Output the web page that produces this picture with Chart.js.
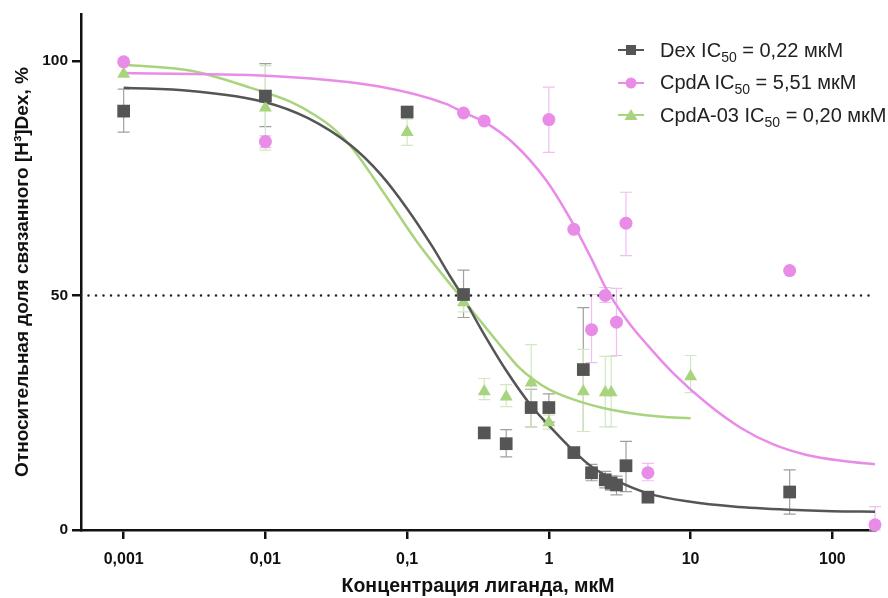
<!DOCTYPE html>
<html>
<head>
<meta charset="utf-8">
<script src="https://cdn.jsdelivr.net/npm/chart.js@4.4.1/dist/chart.umd.min.js"></script>
<style>
  body { margin: 0; background: #fff; }
  #wrap { position: relative; width: 888px; height: 598px; }
  #legend { position: absolute; left: 618px; top: 34px; font-family: "Liberation Sans", Arial, sans-serif; font-size: 20px; color: #222; }
  #legend .row { display: flex; align-items: center; height: 32.5px; white-space: nowrap; }
  #legend svg { margin-right: 16px; }
  #legend sub { font-size: 14px; vertical-align: -5px; line-height: 0; }
</style>
</head>
<body>
<div id="wrap">
  <canvas id="grafico" width="888" height="598"></canvas>
  <div id="legend">
    <div class="row">
      <svg width="26" height="14"><line x1="0" y1="7" x2="26" y2="7" stroke="#555" stroke-width="2"/><rect x="8" y="2" width="10" height="10" fill="#555"/></svg>
      <span>Dex IC<sub>50</sub> = 0,22 мкМ</span>
    </div>
    <div class="row">
      <svg width="26" height="14"><line x1="0" y1="7" x2="26" y2="7" stroke="#e88ce8" stroke-width="2"/><circle cx="13" cy="7" r="5.5" fill="#e88ce8"/></svg>
      <span>CpdA IC<sub>50</sub> = 5,51 мкМ</span>
    </div>
    <div class="row">
      <svg width="26" height="14"><line x1="0" y1="7" x2="26" y2="7" stroke="#a8d47e" stroke-width="2"/><polygon points="13,1 19.5,12 6.5,12" fill="#a8d47e"/></svg>
      <span>CpdA-03 IC<sub>50</sub> = 0,20 мкМ</span>
    </div>
  </div>
</div>
<script>
// Datos
const xTicks = [0.001, 0.01, 0.1, 1, 10, 100];
const xTickLabels = ["0,001", "0,01", "0,1", "1", "10", "100"];
const yTicks = [0, 50, 100];

// Dex (cuadrados)
const dexX  = [0.001, 0.01, 0.1, 0.25, 0.35, 0.5, 0.75, 1, 1.5, 1.75, 2, 2.5, 2.75, 3, 3.5, 5, 50];
const dexY  = [89.3, 92.5, 89.1, 50.2, 20.7, 18.4, 26.1, 26.1, 16.5, 34.2, 12.2, 10.7, 10.0, 9.6, 13.7, 7.0, 8.1];
const dexLo = [84.8, 86, null, 45.3, null, 15.6, 22, 23, null, 21, 10.5, 9, 8.5, 7.5, 8.2, null, 3.4];
const dexHi = [94, 99.4, null, 55.4, null, 21.4, 30, 29, null, 47.4, 14, 12.5, 11.5, 11.5, 18.9, null, 12.8];

// CpdA (círculos)
const cpdaX  = [0.001, 0.01, 0.25, 0.35, 1, 1.5, 2, 2.5, 3, 3.5, 5, 50, 200];
const cpdaY  = [99.8, 82.8, 88.9, 87.2, 87.5, 64.1, 42.7, 50, 44.3, 65.4, 12.2, 55.3, 1.1];
const cpdaLo = [null, 81.5, null, null, 80.5, null, 35.7, 48.5, 37.2, 58.5, 10.5, null, 0];
const cpdaHi = [null, 84, null, null, 94.4, null, 50.2, 51.7, 51.5, 72, 14.2, null, 5];

// CpdA-03 (triángulos)
const cpda03X  = [0.001, 0.01, 0.1, 0.25, 0.35, 0.5, 0.75, 1, 1.75, 2.5, 2.75, 10];
const cpda03Y  = [97.2, 90, 84.8, 48.5, 29.5, 28.4, 31.4, 22.9, 29.5, 29.3, 29.3, 32.7];
const cpda03Lo = [null, 81, 82, 46.5, 27.8, 26.3, 22, 21.5, 21, 22, 22, 29.3];
const cpda03Hi = [null, 99, 87.6, 50.5, 32.3, 31, 39.5, 24.5, 38.5, 37, 37, 37.2];

// Curvas ajustadas (leídas punto a punto del original)
const dexCurveX = [0.001, 0.003, 0.01, 0.02, 0.04, 0.065, 0.1, 0.15, 0.2, 0.25, 0.33, 0.5, 0.75, 1, 1.5, 2, 3, 5, 10, 20, 50, 100, 200];
const dexCurveY = [94.3, 93.6, 91.2, 87.8, 82, 75.8, 68.5, 60.5, 54.2, 49.5, 43, 34, 26.5, 22.3, 16.8, 13.5, 10.5, 7.8, 6.0, 5.0, 4.3, 4.0, 3.9];
const cpdaCurveX = [0.001, 0.0127, 0.065, 0.19, 0.25, 0.35, 0.56, 0.96, 1.5, 2, 2.5, 3.5, 5, 7.5, 13, 22.5, 38, 66, 120, 200];
const cpdaCurveY = [97.4, 96.7, 94.5, 90.8, 89, 87, 82.5, 74.5, 65, 57.8, 51.8, 45, 39.3, 33.5, 27, 21.8, 18.3, 16, 14.7, 14];
const cpda03CurveX = [0.001, 0.003, 0.0078, 0.015, 0.023, 0.031, 0.04, 0.068, 0.117, 0.2, 0.25, 0.33, 0.45, 0.6, 0.8, 1, 1.5, 2.5, 4, 6, 10];
const cpda03CurveY = [99.2, 97.9, 94.3, 91.3, 88.2, 85.3, 81.8, 72, 61.5, 52.5, 49, 44.5, 39.5, 35, 31.8, 30, 27.8, 25.9, 24.8, 24.2, 23.8];

const refX = [0.0005, 200];
const refY = [50, 50];

const pts = (xs, ys) => xs.map((x, i) => ({ x: x, y: ys[i] }));

// Barras de error dibujadas con las escalas de Chart.js
const errorBars = {
  id: "errorBars",
  beforeDatasetsDraw(chart) {
    const ctx = chart.ctx;
    const sx = chart.scales.x, sy = chart.scales.y;
    chart.data.datasets.forEach(ds => {
      if (!ds.errLo) return;
      ctx.save();
      ctx.strokeStyle = ds.errColor;
      ctx.lineWidth = 1.2;
      ds.data.forEach((p, i) => {
        const lo = ds.errLo[i], hi = ds.errHi[i];
        if (lo == null || hi == null) return;
        const x = sx.getPixelForValue(p.x);
        const y1 = sy.getPixelForValue(lo), y2 = sy.getPixelForValue(hi);
        ctx.beginPath();
        ctx.moveTo(x, y1); ctx.lineTo(x, y2);
        ctx.moveTo(x - 6, y1); ctx.lineTo(x + 6, y1);
        ctx.moveTo(x - 6, y2); ctx.lineTo(x + 6, y2);
        ctx.stroke();
      });
      ctx.restore();
    });
  }
};

const ctx = document.getElementById("grafico").getContext("2d");
new Chart(ctx, {
  type: "scatter",
  data: {
    datasets: [
      { label: "Dex", data: pts(dexX, dexY), errLo: dexLo, errHi: dexHi, errColor: "#a0a0a0",
        pointStyle: "rect", pointRadius: 9, backgroundColor: "#555555", borderWidth: 0, clip: false },
      { label: "CpdA", data: pts(cpdaX, cpdaY), errLo: cpdaLo, errHi: cpdaHi, errColor: "#f2bdf2",
        pointStyle: "circle", pointRadius: 6.5, backgroundColor: "#e88ce8", borderWidth: 0, clip: false },
      { label: "CpdA-03", data: pts(cpda03X, cpda03Y), errLo: cpda03Lo, errHi: cpda03Hi, errColor: "#d3e8c0",
        pointStyle: "triangle", pointRadius: 7.5, backgroundColor: "#a8d47e", borderWidth: 0, clip: false },
      { type: "line", data: pts(dexCurveX, dexCurveY), borderColor: "#555555", borderWidth: 2.5,
        pointRadius: 0, cubicInterpolationMode: "monotone", fill: false },
      { type: "line", data: pts(cpdaCurveX, cpdaCurveY), borderColor: "#e88ce8", borderWidth: 2.5,
        pointRadius: 0, cubicInterpolationMode: "monotone", fill: false },
      { type: "line", data: pts(cpda03CurveX, cpda03CurveY), borderColor: "#a8d47e", borderWidth: 2.5,
        pointRadius: 0, cubicInterpolationMode: "monotone", fill: false },
      { type: "line", data: pts(refX, refY), borderColor: "#222", borderWidth: 2.5,
        borderDash: [0, 7.5], borderCapStyle: "round", pointRadius: 0, fill: false }
    ]
  },
  plugins: [errorBars],
  options: {
    responsive: false,
    animation: false,
    layout: { padding: { top: 14, right: 13, left: 0, bottom: 0 } },
    plugins: { legend: { display: false }, tooltip: { enabled: false } },
    scales: {
      x: {
        type: "logarithmic",
        min: 0.0005,
        max: 200,
        afterBuildTicks: s => { s.ticks = xTicks.map(v => ({ value: v })); },
        afterFit: s => { s.height = 68; },
        ticks: {
          autoSkip: false, maxRotation: 0, padding: 11, color: "#111",
          font: { family: "'Liberation Sans Narrow', Arial", size: 16, weight: "bold" },
          callback: v => xTickLabels[xTicks.indexOf(v)]
        },
        grid: { drawOnChartArea: false, drawTicks: true, tickLength: 9, color: "#111", lineWidth: 2.5 },
        border: { color: "#111", width: 2.5 },
        title: { display: true, text: "Концентрация лиганда, мкМ", color: "#111",
          font: { family: "'Liberation Sans Narrow', Arial", size: 19.5, weight: "bold" }, padding: { top: 0, bottom: 0 } }
      },
      y: {
        min: 0,
        max: 110,
        afterBuildTicks: s => { s.ticks = yTicks.map(v => ({ value: v })); },
        afterFit: s => { s.width = 81; },
        ticks: { padding: 4, color: "#111", font: { family: "'Liberation Sans', Arial", size: 15.5, weight: "bold" } },
        grid: { drawOnChartArea: false, drawTicks: true, tickLength: 9, color: "#111", lineWidth: 2.5 },
        border: { color: "#111", width: 2.5 },
        title: { display: true, text: "Относительная доля связанного [H³]Dex, %", color: "#111",
          font: { family: "'Liberation Sans', Arial", size: 19, weight: "bold" }, padding: { top: 11, bottom: 0 } }
      }
    }
  }
});
</script>
</body>
</html>
